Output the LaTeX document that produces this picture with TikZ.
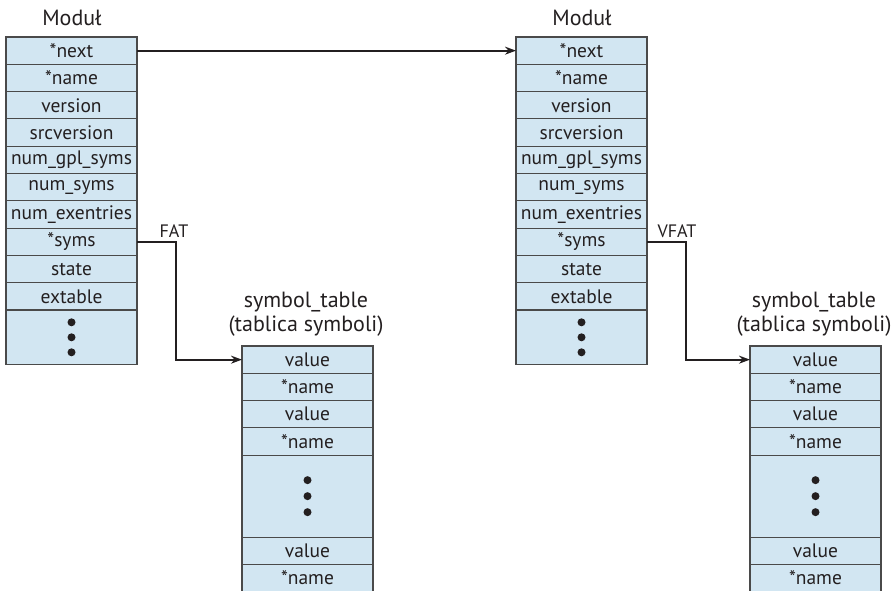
\documentclass[tikz,border=0pt]{standalone}
\usepackage{fontspec}
\setmainfont{PT Sans}
\usetikzlibrary{arrows.meta}
\definecolor{cellfill}{HTML}{D2E6F2}
\definecolor{celldraw}{HTML}{4A4A4A}
\definecolor{ink}{HTML}{231F20}
\begin{document}
\begin{tikzpicture}[x=1pt,y=-1pt,
  cell/.style={draw=celldraw, fill=cellfill, line width=1.1pt, minimum width=131pt, minimum height=27.3pt, inner sep=0pt, outer sep=0pt, anchor=north west, font=\fontsize{19.5}{19.5}\selectfont, text=ink},
  dotscell/.style={cell, minimum height=54.6pt},
  bigdots/.style={cell, minimum height=81.9pt},
  dot/.style={fill=ink, draw=none, circle, minimum size=8pt, inner sep=0pt},
  title/.style={font=\fontsize{22}{22}\selectfont, text=ink},
  lbl/.style={font=\fontsize{18}{18}\selectfont, text=ink},
  link/.style={draw=ink, line width=1.8pt, -{Stealth[length=11pt,width=8pt]}}]
\useasboundingbox (0,0) rectangle (893,590);
\clip (0,0) rectangle (893,590);

% Module tables
\foreach \side/\ox in {L/6, R/516} {
  \foreach \t [count=\i] in {*next,*name,version,srcversion,num\_gpl\_syms,num\_syms,num\_exentries,*syms,state,extable} {
    \node[cell] (\side\i) at (\ox, 37+27.3*\i-27.3) {\t};
  }
  \node[dotscell] (\side D) at (\ox, 310) {};
  \node[dot] (\side d1) at ([yshift=-15pt]\side D.center) {};
  \node[dot] (\side d2) at (\side D.center) {};
  \node[dot] (\side d3) at ([yshift=15pt]\side D.center) {};
  \node[title] (\side T) at (\ox+66, 18) {Moduł};
}

% Symbol tables
\foreach \side/\ox in {A/242, B/750} {
  \node[cell] (\side1) at (\ox, 346) {value};
  \node[cell] (\side2) at (\ox, 373.3) {*name};
  \node[cell] (\side3) at (\ox, 400.6) {value};
  \node[cell] (\side4) at (\ox, 427.9) {*name};
  \node[bigdots] (\side D) at (\ox, 455.2) {};
  \node[dot] (\side d1) at ([yshift=-16pt]\side D.center) {};
  \node[dot] (\side d2) at (\side D.center) {};
  \node[dot] (\side d3) at ([yshift=16pt]\side D.center) {};
  \node[cell] (\side5) at (\ox, 537.1) {value};
  \node[cell] (\side6) at (\ox, 564.4) {*name};
  \node[title] (\side T1) at (\ox+64, 302) {symbol\_table};
  \node[title] (\side T2) at (\ox+64, 326) {(tablica symboli)};
}

% Connectors
\draw[link] (L1.east) -- (R1.west);
\draw[link] (L8.east) -- ++(39,0) |- (A1.west);
\draw[link] (R8.east) -- ++(39,0) |- (B1.west);
\node[lbl] (fat) at (174, 231) {FAT};
\node[lbl] (vfat) at (677, 231) {VFAT};
\end{tikzpicture}
\end{document}
